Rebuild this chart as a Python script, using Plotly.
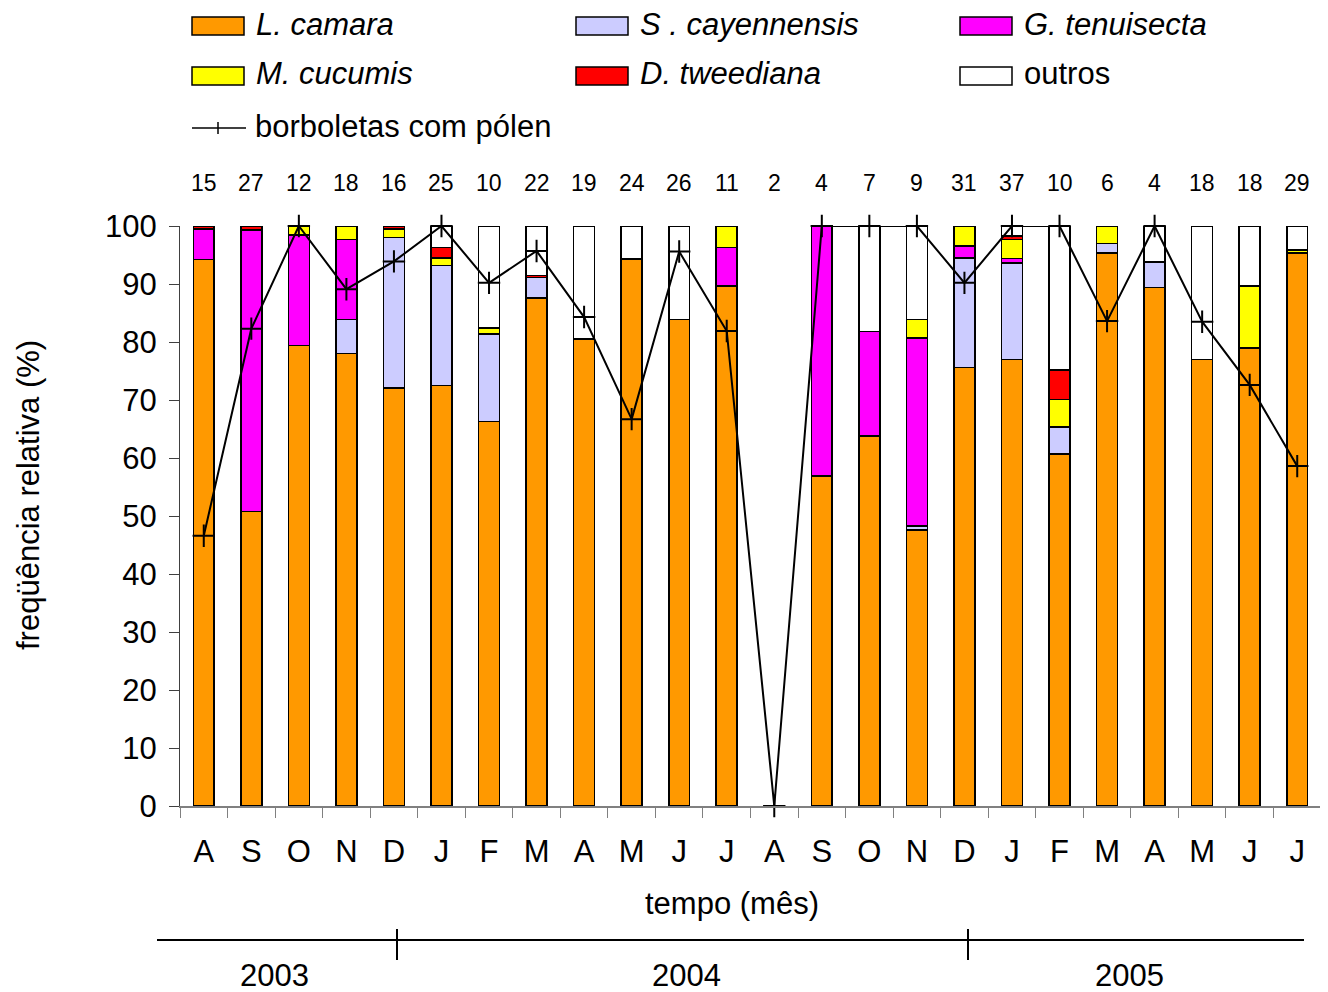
import plotly.graph_objects as go

# ---------------- data ----------------
months = ["A", "S", "O", "N", "D", "J", "F", "M", "A", "M", "J", "J",
          "A", "S", "O", "N", "D", "J", "F", "M", "A", "M", "J", "J"]
counts = ["15", "27", "12", "18", "16", "25", "10", "22", "19", "24", "26", "11",
          "2", "4", "7", "9", "31", "37", "10", "6", "4", "18", "18", "29"]
years = ["2003", "2004", "2005"]

l_camara = [94.2, 50.8, 79.4, 78.0, 72.1, 72.5, 66.3, 87.6, 80.5, 94.3, 83.9, 89.7,
            0, 56.9, 63.8, 47.6, 75.6, 77.0, 60.7, 95.3, 89.4, 77.0, 79.0, 95.3]
s_cayennensis = [0, 0, 0, 5.9, 25.9, 20.7, 15.1, 3.5, 0, 0, 0, 0,
                 0, 0, 0, 0.7, 18.9, 16.6, 4.6, 1.7, 4.4, 0, 0, 0]
g_tenuisecta = [5.3, 48.5, 19.0, 13.8, 0, 0, 0, 0, 0, 0, 0, 6.6,
                0, 43.1, 18.0, 32.4, 2.1, 0.8, 0, 0, 0, 0, 0, 0]
m_cucumis = [0, 0, 1.6, 2.3, 1.5, 1.3, 1.0, 0, 0, 0, 0, 3.7,
             0, 0, 0, 3.2, 3.4, 3.3, 4.8, 3.0, 0, 0, 10.7, 0.6]
d_tweediana = [0.5, 0.7, 0, 0, 0.5, 1.8, 0, 0.4, 0, 0, 0, 0,
               0, 0, 0, 0, 0, 0.6, 5.1, 0, 0, 0, 0, 0]
outros = [0, 0, 0, 0, 0, 3.7, 17.6, 8.5, 19.5, 5.7, 16.1, 0,
          0, 0, 18.2, 16.1, 0, 1.7, 24.8, 0, 6.2, 23.0, 10.3, 4.1]
borboletas_polen = [46.6, 82.3, 100, 89.1, 93.9, 100, 90.2, 95.7, 84.3, 66.7, 95.6, 81.9,
                    0, 100, 100, 100, 90.2, 100, 100, 83.6, 100, 83.5, 72.6, 58.6]

series_names = ["L. camara", "S . cayennensis", "G. tenuisecta",
                "M. cucumis", "D. tweediana", "outros"]
series_values = [l_camara, s_cayennensis, g_tenuisecta, m_cucumis, d_tweediana, outros]
series_colors = ["#FF9900", "#CCCCFF", "#FF00FF", "#FFFF00", "#FF0000", "#FFFFFF"]
line_name = "borboletas com pólen"

# ---------------- geometry helpers ----------------
OFF = 8                      # page body margin
W, H = 1318, 984             # figure spans window pixels 8..1326 x 8..992
L, R, T, B = 180, 1321, 226, 806   # plot area in window pixels


def px(x):
    return (x - L) / (R - L)


def py(y):
    return (B - y) / (B - T)


FONT = "Liberation Sans, Arial, sans-serif"
FS = 31
cats = [f"c{i}" for i in range(len(months))]

fig = go.Figure()
for name, vals, col in zip(series_names, series_values, series_colors):
    fig.add_trace(go.Bar(
        x=cats, y=[v if v else None for v in vals], name=name,
        marker=dict(color=col, line=dict(color="black", width=1.6)),
        showlegend=False))

fig.add_trace(go.Scatter(
    x=cats, y=borboletas_polen, name=line_name, mode="lines+markers",
    line=dict(color="black", width=2),
    marker=dict(symbol="cross-thin", size=16, line=dict(color="black", width=2)),
    cliponaxis=False, showlegend=False))

shapes = []
annotations = []

# count labels above bars
for i, c in enumerate(counts):
    annotations.append(dict(x=i, y=py(183), xref="x", yref="paper", text=c,
                            showarrow=False, font=dict(size=23, color="black", family=FONT),
                            xanchor="center", yanchor="middle"))

# manual legend
leg_cols = [192, 576, 960]
leg_rows = [26, 76]
for k, (name, col) in enumerate(zip(series_names, series_colors)):
    cx = leg_cols[k % 3]
    cy = leg_rows[k // 3]
    shapes.append(dict(type="rect", xref="paper", yref="paper",
                       x0=px(cx), x1=px(cx + 52), y0=py(cy - 9), y1=py(cy + 9),
                       fillcolor=col, line=dict(color="black", width=1.5)))
    txt = name if name == "outros" else f"<i>{name}</i>"
    annotations.append(dict(x=px(cx + 62), y=py(cy - 2), xref="paper", yref="paper", text=txt,
                            showarrow=False, xanchor="left", yanchor="middle",
                            font=dict(size=FS, color="black", family=FONT)))
# line legend entry
shapes.append(dict(type="line", xref="paper", yref="paper",
                   x0=px(192), x1=px(246), y0=py(128), y1=py(128),
                   line=dict(color="black", width=1.5)))
shapes.append(dict(type="line", xref="paper", yref="paper",
                   x0=px(218), x1=px(218), y0=py(122), y1=py(134),
                   line=dict(color="black", width=1.5)))
annotations.append(dict(x=px(253), y=py(126), xref="paper", yref="paper", text=line_name,
                        showarrow=False, xanchor="left", yanchor="middle",
                        font=dict(size=FS, color="black", family=FONT)))

# axis titles
annotations.append(dict(x=px(732), y=py(903), xref="paper", yref="paper", text="tempo (mês)",
                        showarrow=False, xanchor="center", yanchor="middle",
                        font=dict(size=FS, color="black", family=FONT)))
annotations.append(dict(x=px(28), y=py(495), xref="paper", yref="paper",
                        text="freqüência relativa (%)", textangle=-90,
                        showarrow=False, xanchor="center", yanchor="middle",
                        font=dict(size=FS, color="black", family=FONT)))

# year bar
shapes.append(dict(type="line", xref="paper", yref="paper",
                   x0=px(157), x1=px(1304), y0=py(940), y1=py(940),
                   line=dict(color="black", width=2)))
for xd in (397, 968):
    shapes.append(dict(type="line", xref="paper", yref="paper",
                       x0=px(xd), x1=px(xd), y0=py(929), y1=py(960),
                       line=dict(color="black", width=2)))
for yr, xc in zip(years, (274, 686, 1129)):
    annotations.append(dict(x=px(xc), y=py(975), xref="paper", yref="paper", text=yr,
                            showarrow=False, xanchor="center", yanchor="middle",
                            font=dict(size=FS, color="black", family=FONT)))

fig.update_layout(
    width=W, height=H,
    margin=dict(l=L - OFF, r=(OFF + W) - R, t=T - OFF, b=(OFF + H) - B, pad=0),
    barmode="stack", bargap=0.56,
    plot_bgcolor="white", paper_bgcolor="white",
    font=dict(family=FONT, color="black"),
    shapes=shapes, annotations=annotations,
    showlegend=False,
)
fig.update_xaxes(
    type="category", tickvals=cats, ticktext=months, tickson="boundaries",
    range=[-0.5, len(cats) - 0.5],
    showline=True, linecolor="#808080", linewidth=1.5,
    ticks="outside", ticklen=10, tickwidth=1, tickcolor="#808080",
    tickfont=dict(size=FS, color="black", family=FONT),
    ticklabelstandoff=17,
    showgrid=False, zeroline=False)
fig.update_yaxes(
    range=[0, 100], tickmode="array", tickvals=list(range(0, 101, 10)),
    showline=True, linecolor="#404040", linewidth=1,
    ticks="outside", ticklen=10, tickwidth=1, tickcolor="#404040",
    tickfont=dict(size=FS, color="black", family=FONT),
    ticklabelstandoff=6,
    showgrid=False, zeroline=False)

fig.write_html("out.html")
